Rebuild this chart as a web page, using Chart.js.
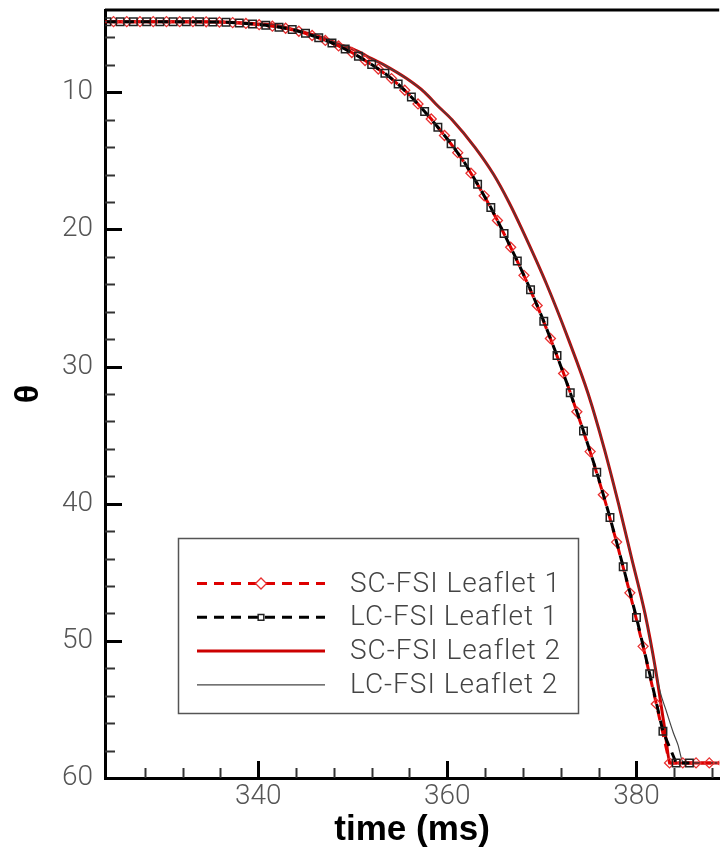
<!DOCTYPE html>
<html>
<head>
<meta charset="utf-8">
<script src="https://cdn.jsdelivr.net/npm/chart.js@4.4.0/dist/chart.umd.min.js"></script>
<style>
  body { margin: 0; background: #fff; overflow: hidden; }
  #thetaChart { display: block; }
</style>
</head>
<body>
<canvas id="thetaChart" width="726" height="851"></canvas>
<script>
// Leaflet opening angle (theta) against time, two leaflets, two solvers

// LC-FSI Leaflet 1 (black dashed, squares)
const lc1Time = [324.0, 325.4, 326.8, 328.2, 329.6, 331.0, 332.4, 333.8, 335.2, 336.6, 338.0, 339.4,
  340.8, 342.2, 343.6, 345.0, 346.4, 347.8, 349.2, 350.6, 352.0, 353.4, 354.8, 356.2, 357.6, 359.0,
  360.4, 361.8, 363.2, 364.6, 366.0, 367.4, 368.8, 370.2, 371.6, 373.0, 374.4, 375.8, 377.2, 378.6,
  380.0, 381.4, 382.8, 384.2, 385.6];
const lc1Theta = [4.85, 4.85, 4.85, 4.85, 4.85, 4.85, 4.85, 4.86, 4.87, 4.90, 4.95, 5.02,
  5.12, 5.25, 5.42, 5.70, 6.03, 6.40, 6.85, 7.38, 7.98, 8.62, 9.40, 10.35, 11.40, 12.55,
  13.75, 15.10, 16.70, 18.40, 20.30, 22.30, 24.40, 26.70, 29.20, 31.90, 34.70, 37.70, 41.00, 44.60,
  48.30, 52.40, 56.60, 58.90, 58.90];

// SC-FSI Leaflet 1 (red dashed, diamonds)
const sc1Time = [324.7, 326.1, 327.5, 328.9, 330.3, 331.7, 333.1, 334.5, 335.9, 337.3, 338.7, 340.1,
  341.5, 342.9, 344.3, 345.7, 347.1, 348.5, 349.9, 351.3, 352.7, 354.1, 355.5, 356.9, 358.3, 359.7,
  361.1, 362.5, 363.9, 365.3, 366.7, 368.1, 369.5, 370.9, 372.3, 373.7, 375.1, 376.5, 377.9, 379.3,
  380.7, 382.1, 383.5, 384.9, 386.3, 387.7, 389.1];
const sc1Theta = [4.85, 4.85, 4.85, 4.85, 4.85, 4.85, 4.85, 4.86, 4.88, 4.92, 4.98, 5.07,
  5.18, 5.33, 5.55, 5.86, 6.22, 6.62, 7.10, 7.68, 8.30, 9.00, 9.85, 10.85, 11.95, 13.15,
  14.40, 15.90, 17.55, 19.35, 21.30, 23.35, 25.55, 27.95, 30.50, 33.30, 36.20, 39.35, 42.80, 46.50,
  50.40, 54.60, 58.90, 58.90, 58.90, 58.90, 58.90];

// SC-FSI Leaflet 2 (red solid)
const sc2Time = [323.8, 330.0, 336.0, 339.8, 342.0, 344.1, 346.7, 348.6, 350.5, 352.0, 353.3, 355.7,
  357.6, 359.0, 360.5, 362.9, 364.9, 366.5, 367.9, 370.5, 372.8, 374.9, 376.6, 378.1, 379.5, 380.9,
  382.0, 382.9, 383.6, 386.0, 389.0];
const sc2Theta = [4.85, 4.85, 4.87, 5.00, 5.12, 5.50, 6.00, 6.50, 7.00, 7.55, 8.00, 9.00,
  10.00, 11.00, 12.00, 14.00, 16.00, 18.00, 20.00, 24.00, 28.00, 32.00, 36.00, 40.00, 44.00, 48.00,
  52.00, 56.00, 58.90, 58.90, 58.90];

// LC-FSI Leaflet 2 (thin grey)
const lc2Time = [323.8, 330.0, 336.0, 339.8, 342.0, 344.1, 346.7, 348.6, 350.5, 352.0, 353.3, 355.7,
  357.6, 359.0, 360.5, 362.9, 364.9, 366.5, 367.9, 370.5, 372.8, 374.9, 376.6, 378.1, 379.5, 380.9,
  382.0, 382.5, 383.1, 383.9, 384.4, 384.9, 386.0, 389.0];
const lc2Theta = [4.85, 4.85, 4.87, 5.00, 5.12, 5.50, 6.00, 6.50, 7.00, 7.55, 8.00, 9.00,
  10.00, 11.00, 12.00, 14.00, 16.00, 18.00, 20.00, 24.00, 28.00, 32.00, 36.00, 40.00, 44.00, 48.00,
  52.00, 53.70, 55.00, 56.70, 57.60, 58.80, 58.90, 58.90];

const seriesNames = ['SC-FSI Leaflet 1', 'LC-FSI Leaflet 1', 'SC-FSI Leaflet 2', 'LC-FSI Leaflet 2'];
const xTickLabels = [340, 360, 380];
const yTickLabels = [10, 20, 30, 40, 50, 60];

const RED = '#dd0000';
const THIN_FAMILY = 'Roboto, "Liberation Sans", Arial, sans-serif';
const LABEL_FONT = { family: THIN_FAMILY, size: 28, weight: '300' };

function pairs(xs, ys) {
    return xs.map((x, i) => ({ x: x, y: ys[i] }));
}

// Tecplot style frame: ticks pointing inward plus the top border
const innerTicks = {
    id: 'innerTicks',
    afterDraw(chart) {
        const { ctx, chartArea: a, scales: { x, y } } = chart;
        ctx.save();
        ctx.strokeStyle = '#000';
        ctx.lineWidth = 3;
        ctx.beginPath();
        ctx.moveTo(a.left, a.top);
        ctx.lineTo(a.right, a.top);
        ctx.stroke();

        for (let v = 6; v < 60; v += 2) {
            const major = v % 10 === 0;
            const py = Math.round(y.getPixelForValue(v)) + 0.5;
            ctx.lineWidth = major ? 3 : 2;
            ctx.strokeStyle = major ? '#000' : '#333';
            ctx.beginPath();
            ctx.moveTo(a.left, py);
            ctx.lineTo(a.left + (major ? 17 : 10), py);
            ctx.stroke();
        }
        for (let v = 328; v <= x.max; v += 4) {
            const major = v % 20 === 0;
            const px = Math.round(x.getPixelForValue(v)) + 0.5;
            ctx.lineWidth = major ? 3 : 2;
            ctx.strokeStyle = major ? '#000' : '#333';
            ctx.beginPath();
            ctx.moveTo(px, a.bottom);
            ctx.lineTo(px, a.bottom - (major ? 17 : 10));
            ctx.stroke();
        }
        ctx.restore();
    }
};

// Boxed legend inside the plot, lower left
const boxLegend = {
    id: 'boxLegend',
    afterDraw(chart) {
        const ctx = chart.ctx;
        ctx.save();
        ctx.strokeStyle = '#555';
        ctx.lineWidth = 1.5;
        ctx.strokeRect(178.5, 538.5, 400, 175);

        chart.data.datasets.forEach((ds, i) => {
            const cy = 583.5 + i * 33.8;
            ctx.strokeStyle = ds.borderColor;
            ctx.lineWidth = ds.borderWidth;
            ctx.setLineDash(ds.borderDash || []);
            ctx.beginPath();
            ctx.moveTo(197, cy);
            ctx.lineTo(325, cy);
            ctx.stroke();
            ctx.setLineDash([]);
            if (ds.pointRadius > 0) {
                ctx.fillStyle = '#fff';
                ctx.strokeStyle = ds.pointBorderColor;
                ctx.lineWidth = ds.pointBorderWidth;
                Chart.helpers.drawPoint(ctx, {
                    pointStyle: ds.pointStyle,
                    radius: ds.pointStyle === 'rect' ? 4 : 5.5,
                    borderWidth: ds.pointBorderWidth,
                    rotation: 0
                }, 261, cy);
            }
            ctx.fillStyle = '#444';
            ctx.font = '300 28px ' + THIN_FAMILY;
            ctx.letterSpacing = '1px';
            ctx.textBaseline = 'middle';
            ctx.fillText(seriesNames[i], 350, cy + 1);
            ctx.letterSpacing = '0px';
        });
        ctx.restore();
    }
};

const ctx = document.getElementById('thetaChart').getContext('2d');
new Chart(ctx, {
    type: 'line',
    data: {
        datasets: [
            {
                label: seriesNames[0],
                data: pairs(sc1Time, sc1Theta),
                borderColor: RED,
                borderWidth: 3,
                borderDash: [10, 7],
                pointStyle: 'rectRot',
                pointRadius: 5,
                pointBorderWidth: 1.3,
                pointBorderColor: '#e83030',
                pointBackgroundColor: 'rgba(0,0,0,0)',
                order: 2
            },
            {
                label: seriesNames[1],
                data: pairs(lc1Time, lc1Theta),
                borderColor: '#000',
                borderWidth: 3,
                borderDash: [10, 7],
                pointStyle: 'rect',
                pointRadius: 5.3,
                pointBorderWidth: 1.5,
                pointBorderColor: '#222',
                pointBackgroundColor: 'rgba(0,0,0,0)',
                order: 1
            },
            {
                label: seriesNames[2],
                data: pairs(sc2Time, sc2Theta),
                borderColor: '#cc0000',
                borderWidth: 3,
                pointRadius: 0,
                cubicInterpolationMode: 'monotone',
                order: 4
            },
            {
                label: seriesNames[3],
                data: pairs(lc2Time, lc2Theta),
                borderColor: '#444',
                borderWidth: 1.2,
                pointRadius: 0,
                cubicInterpolationMode: 'monotone',
                order: 3
            }
        ]
    },
    options: {
        responsive: false,
        animation: false,
        layout: { padding: { top: 10, right: 0, bottom: 0, left: 0 } },
        plugins: {
            legend: { display: false },
            tooltip: { enabled: false }
        },
        scales: {
            x: {
                type: 'linear',
                min: 323.8,
                max: 388.75,
                grid: { display: false, drawTicks: false },
                border: { display: true, color: '#000', width: 3 },
                afterBuildTicks: (axis) => { axis.ticks = xTickLabels.map(v => ({ value: v })); },
                afterFit: (s) => { s.height = 73; s.paddingLeft = 0; s.paddingRight = 0; },
                ticks: { font: LABEL_FONT, color: '#555', padding: 2, maxRotation: 0 },
                title: {
                    display: true,
                    text: 'time (ms)',
                    color: '#000',
                    font: { family: '"Liberation Sans", Arial, sans-serif', size: 35, weight: 'bold' },
                    padding: { top: 0, bottom: 0 }
                }
            },
            y: {
                type: 'linear',
                reverse: true,
                min: 4,
                max: 60,
                grid: { display: false, drawTicks: false },
                border: { display: true, color: '#000', width: 3 },
                afterBuildTicks: (axis) => { axis.ticks = yTickLabels.map(v => ({ value: v })); },
                afterFit: (s) => { s.width = 105; s.paddingTop = 0; s.paddingBottom = 0; },
                ticks: { font: LABEL_FONT, color: '#555', padding: 12 },
                title: {
                    display: true,
                    text: 'θ',
                    color: '#000',
                    font: { family: '"Liberation Sans", Arial, sans-serif', size: 34, weight: 'bold' },
                    padding: { top: 8, bottom: 0 }
                }
            }
        }
    },
    plugins: [innerTicks, boxLegend]
});
</script>
</body>
</html>
